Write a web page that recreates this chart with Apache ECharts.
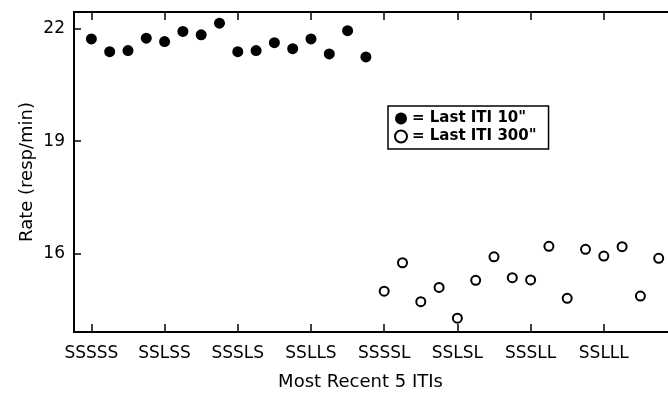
<!DOCTYPE html>
<html>
<head>
<meta charset="utf-8">
<script src="https://cdn.jsdelivr.net/npm/echarts@6/dist/echarts.min.js"></script>
<style>
  html, body { margin: 0; padding: 0; background: #fff; }
  #chart { width: 668px; height: 395px; }
</style>
</head>
<body>
<div id="chart"></div>
<script>
// tick labels at every 4th sequence position
const tickLabels = ['SSSSS', 'SSLSS', 'SSSLS', 'SSLLS', 'SSSSL', 'SSLSL', 'SSSLL', 'SSLLL']
const tickPositions = [0, 4, 8, 12, 16, 20, 24, 28]

// rate (resp/min) for sequences ending in a 10" ITI (positions 0-15)
const lastShort = [21.73, 21.39, 21.42, 21.75, 21.66, 21.93, 21.84, 22.15,
  21.39, 21.42, 21.63, 21.47, 21.73, 21.33, 21.95, 21.25]
// rate (resp/min) for sequences ending in a 300" ITI (positions 16-31)
const lastLong = [14.99, 15.75, 14.71, 15.09, 14.27, 15.28, 15.91, 15.35,
  15.29, 16.19, 14.80, 16.11, 15.93, 16.18, 14.86, 15.87]

const yTicks = [16, 19, 22]

const font = 'DejaVu Sans'
const chart = echarts.init(document.getElementById('chart'))

const xCommon = {
  type: 'value',
  min: -0.95,
  max: 32,
  splitLine: { show: false },
  axisLine: { onZero: false, lineStyle: { color: '#000', width: 2 } },
  axisTick: {
    inside: true,
    length: 8,
    customValues: tickPositions,
    lineStyle: { color: '#000', width: 1.5 },
  },
}

const option = {
  animation: false,
  backgroundColor: '#fff',
  grid: {
    left: 74,
    right: -9,
    top: 12,
    bottom: 63,
    containLabel: false,
    outerBoundsMode: 'none',
  },
  legend: {
    orient: 'vertical',
    left: 388,
    top: 106,
    padding: [5, 12, 5, 6],
    itemGap: 3,
    itemWidth: 12,
    itemHeight: 12,
    borderColor: '#000',
    borderWidth: 1.5,
    textStyle: { fontFamily: font, fontSize: 15, color: '#000', fontWeight: 'bold' },
    formatter: (name) => '= ' + name,
    data: [
      { name: 'Last ITI 10"', icon: 'circle' },
      { name: 'Last ITI 300"', icon: 'emptyCircle' },
    ],
  },
  xAxis: [
    {
      ...xCommon,
      position: 'bottom',
      name: 'Most Recent 5 ITIs',
      nameLocation: 'middle',
      nameGap: 41,
      nameTextStyle: { fontFamily: font, fontSize: 18, color: '#000', padding: [0, 30, 0, 0] },
      axisLabel: {
        customValues: tickPositions,
        margin: 13,
        fontFamily: font,
        fontSize: 17,
        color: '#000',
        formatter: (v) => tickLabels[Math.round(v / 4)],
      },
    },
    {
      ...xCommon,
      position: 'top',
      axisLabel: { show: false },
    },
  ],
  yAxis: {
    type: 'value',
    min: 13.9,
    max: 22.45,
    splitLine: { show: false },
    axisLine: { onZero: false, lineStyle: { color: '#000', width: 2 } },
    axisTick: {
      inside: true,
      length: 7,
      customValues: yTicks,
      lineStyle: { color: '#000', width: 1.5 },
    },
    axisLabel: {
      customValues: yTicks,
      margin: 9,
      fontFamily: font,
      fontSize: 17,
      color: '#000',
    },
    name: 'Rate (resp/min)',
    nameLocation: 'middle',
    nameGap: 38,
    nameMoveOverlap: false,
    nameTextStyle: { fontFamily: font, fontSize: 18, color: '#000' },
  },
  series: [
    {
      name: 'Last ITI 10"',
      type: 'scatter',
      symbol: 'circle',
      symbolSize: 11,
      itemStyle: { color: '#000', opacity: 1 },
      data: lastShort.map((v, i) => [i, v]),
    },
    {
      name: 'Last ITI 300"',
      type: 'scatter',
      symbol: 'emptyCircle',
      symbolSize: 9,
      itemStyle: { color: '#000', borderColor: '#000', borderWidth: 1.6, opacity: 1 },
      data: lastLong.map((v, i) => [i + 16, v]),
    },
  ],
}

chart.setOption(option)
</script>
</body>
</html>
